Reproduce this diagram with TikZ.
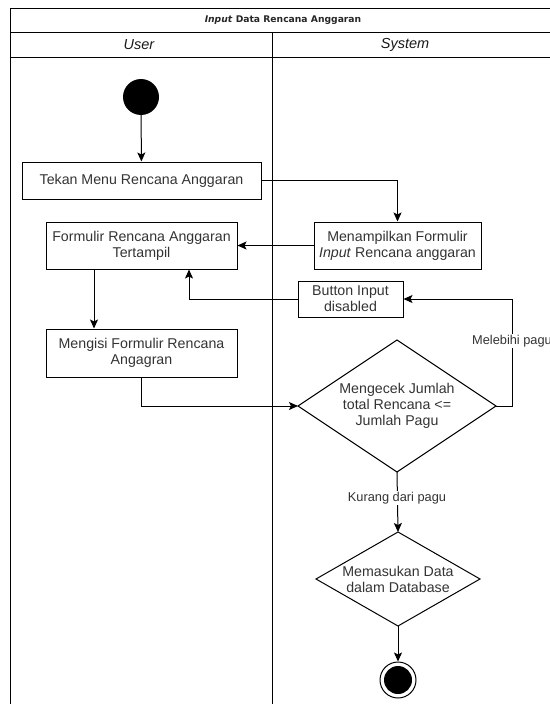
\documentclass[tikz,border=0pt]{standalone}
\usepackage{fontspec}
\setmainfont{Liberation Sans}
\newfontfamily\titlefont{DejaVu Sans}
\usetikzlibrary{arrows.meta,shapes.geometric}

\tikzset{
  arr/.style={line width=1pt, -{Stealth[length=9pt,width=8pt,inset=2pt]}},
  bodytext/.style={align=center, font=\fontsize{14.2}{16}\selectfont, text=black!80},
  actbox/.style={bodytext, draw, line width=1pt, rectangle, inner sep=2pt},
  decide/.style={draw, line width=1pt, diamond, inner sep=0pt, outer sep=0pt},
  lbl/.style={fill=white, inner sep=1pt, font=\fontsize{12.8}{14}\selectfont, text=black!80},
  lanehead/.style={font=\fontsize{14.5}{16}\selectfont\itshape, text=black!90},
}

\begin{document}
\begin{tikzpicture}[x=1pt, y=-1pt]
\useasboundingbox (0,0) rectangle (549,704);

% swimlane frame
\draw[line width=1pt] (10,720) -- (10,8) -- (570,8);
\draw[line width=1pt] (10,32) -- (570,32);
\draw[line width=1pt] (10,57) -- (570,57);
\draw[line width=1pt] (272,32) -- (272,720);

\node[font=\titlefont\bfseries\fontsize{9.2}{11}\selectfont, text=black!85] (title) at (283,20) {\textit{Input} Data Rencana Anggaran};
\node[lanehead] (user) at (139,44.5) {User};
\node[lanehead] (system) at (405,44.5) {System};

% activities
\node[circle, fill=black, minimum size=36pt, inner sep=0pt] (start) at (141,97) {};
\node[actbox, minimum width=239pt, minimum height=37pt] (tekan) at (141.5,180.5) {Tekan Menu Rencana Anggaran};
\node[actbox, minimum width=167pt, minimum height=47pt] (tampil) at (397.5,245.5) {Menampilkan Formulir\\\textit{Input} Rencana anggaran};
\node[actbox, minimum width=191pt, minimum height=47pt] (formulir) at (141.5,245.5) {Formulir Rencana Anggaran\\Tertampil};
\node[actbox, minimum width=105pt, minimum height=36pt] (button) at (350.5,299) {Button Input\\disabled};
\node[actbox, minimum width=191pt, minimum height=48pt] (isi) at (141.5,353) {Mengisi Formulir Rencana\\Angagran};

% decisions: fixed-size diamonds with their captions set on top
\node[decide, minimum width=198pt, minimum height=132pt] (cek) at (397,406) {};
\node[bodytext] (cektext) at (cek.center) {Mengecek Jumlah\\total Rencana <=\\Jumlah Pagu};
\node[decide, minimum width=164pt, minimum height=94pt] (simpan) at (398,579) {};
\node[bodytext] (simpantext) at (simpan.center) {Memasukan Data\\dalam Database};

\node[circle, draw, line width=1pt, minimum size=36pt, inner sep=0pt] (end) at (398,680) {};
\node[circle, fill=black, minimum size=28pt, inner sep=0pt] (endin) at (end) {};

% bend points
\coordinate (xa) at (94,0);
\coordinate (xb) at (189,0);
\coordinate (xc) at (512,0);

% connectors
\draw[arr] (start) -- (tekan);
\draw[arr] (tekan.east) -| (tampil.north);
\draw[arr] (tampil.west) -- (formulir.east);
\draw[arr] (formulir.south -| xa) -- (isi.north -| xa);
\draw[arr] (button.west) -| (xb |- formulir.south);
\draw[arr] (isi.south) |- (cek.west);
\draw[arr] (cek.east) -- (cek.east -| xc) |- (button.east);
\draw[arr] (cek.south) -- (simpan.north);
\draw[arr] (simpan.south) -- (end.north);

\node[lbl] (lebih) at (512,341) {Melebihi pagu};
\node[lbl] (kurang) at (397,498) {Kurang dari pagu};
\end{tikzpicture}
\end{document}
